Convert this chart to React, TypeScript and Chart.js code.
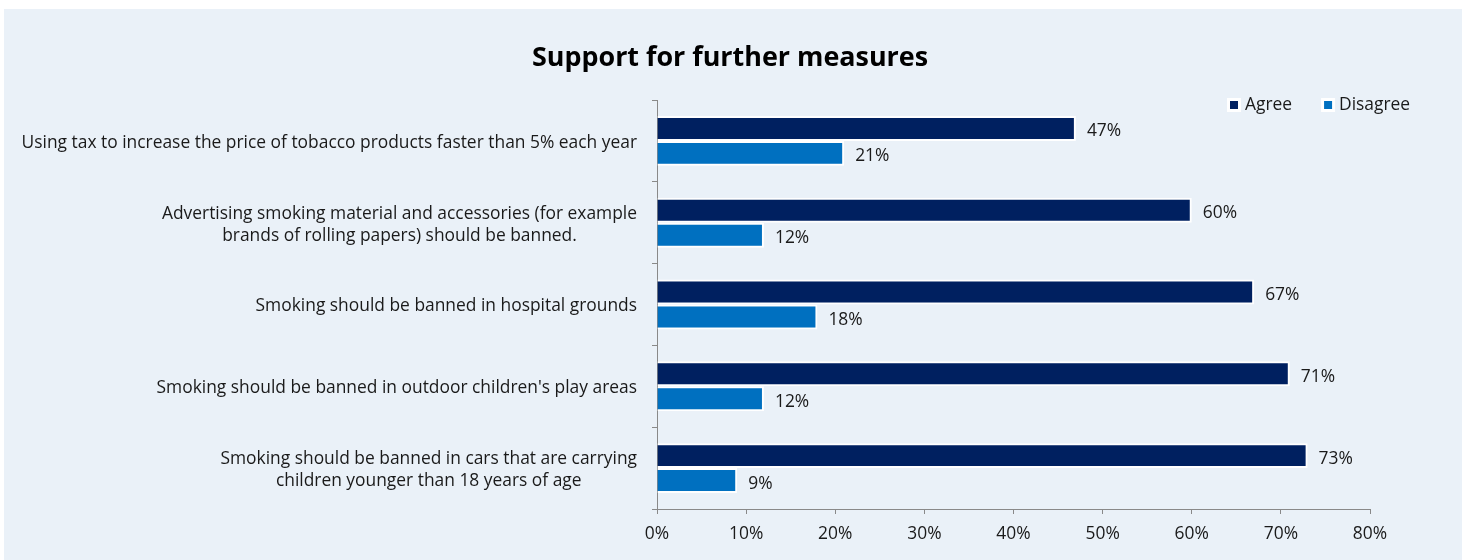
import React, { useEffect, useRef } from "react";
import { Chart, registerables } from "chart.js";

Chart.register(...registerables);

const categories: string[][] = [
  ["Using tax to increase the price of tobacco products faster than 5% each year"],
  ["Advertising smoking material and accessories (for example", "brands of rolling papers) should be banned."],
  ["Smoking should be banned in hospital grounds"],
  ["Smoking should be banned in outdoor children's play areas"],
  ["Smoking should be banned in cars that are carrying", "children younger than 18 years of age"],
];
const agree = [47, 60, 67, 71, 73];
const disagree = [21, 12, 18, 12, 9];
const seriesNames = ["Agree", "Disagree"];
const seriesColors = ["#002060", "#0070C0"];
const xMin = 0;
const xMax = 80;
const xStep = 10;
const title = "Support for further measures";

const FONT = '"Open Sans", "DejaVu Sans", sans-serif';
const AXIS = "#898989";
const TEXT = "#1a1a1a";
const FS = 17.4;

const customDraw = {
  id: "customDraw",
  beforeDraw(chart: any) {
    const ctx = chart.ctx;
    ctx.save();
    ctx.fillStyle = "#EAF1F8";
    ctx.fillRect(4, 9, chart.width - 4, chart.height - 9);
    ctx.restore();
  },
  afterDraw(chart: any) {
    const ctx = chart.ctx;
    const yScale = chart.scales.y;
    ctx.save();
    // title
    ctx.fillStyle = "#000";
    ctx.font = `bold 26.9px ${FONT}`;
    ctx.textAlign = "center";
    ctx.textBaseline = "middle";
    ctx.fillText(title, 730, 58);

    // y labels
    ctx.font = `${FS}px ${FONT}`;
    ctx.fillStyle = TEXT;
    const lineH = 22;
    categories.forEach((lines, i) => {
      const cy = yScale.getPixelForValue(i) + 2;
      const widths = lines.map((l) => ctx.measureText(l).width);
      const maxW = Math.max(...widths);
      const right = yScale.right - 20;
      const cx = right - maxW / 2;
      ctx.textAlign = "center";
      lines.forEach((l, j) => {
        const y = cy + (j - (lines.length - 1) / 2) * lineH;
        ctx.fillText(l, cx, y);
      });
    });

    // data labels
    ctx.textAlign = "left";
    chart.data.datasets.forEach((ds: any, di: number) => {
      const meta = chart.getDatasetMeta(di);
      meta.data.forEach((el: any, i: number) => {
        ctx.fillText(ds.data[i] + "%", el.x + 11, el.y + 3);
      });
    });

    // legend
    let lx = 1227;
    const ly = 105;
    seriesNames.forEach((name, i) => {
      ctx.fillStyle = "#fff";
      ctx.fillRect(lx, ly - 7, 14, 14);
      ctx.fillStyle = seriesColors[i];
      ctx.fillRect(lx + 3, ly - 4, 8, 8);
      ctx.fillStyle = TEXT;
      ctx.textAlign = "left";
      ctx.fillText(name, lx + 18, ly);
      lx += 18 + ctx.measureText(name).width + 29;
    });
    ctx.restore();
  },
};

export default function App() {
  const ref = useRef<HTMLCanvasElement>(null);
  useEffect(() => {
    document.body.style.margin = "0";
    const chart = new Chart(ref.current!, {
      type: "bar",
      data: {
        labels: categories.map((c) => c.join(" ")),
        datasets: [
          {
            label: seriesNames[0],
            data: agree,
            backgroundColor: seriesColors[0],
            borderColor: "#ffffff",
            borderWidth: 2,
            categoryPercentage: 0.61,
            barPercentage: 1,
          },
          {
            label: seriesNames[1],
            data: disagree,
            backgroundColor: seriesColors[1],
            borderColor: "#ffffff",
            borderWidth: 2,
            categoryPercentage: 0.61,
            barPercentage: 1,
          },
        ],
      },
      options: {
        indexAxis: "y",
        responsive: false,
        animation: false,
        layout: { padding: { top: 100, right: 92, left: 0, bottom: 0 } },
        plugins: {
          legend: { display: false },
          title: { display: false },
          tooltip: { enabled: false },
        },
        scales: {
          x: {
            min: xMin,
            max: xMax,
            ticks: {
              stepSize: xStep,
              callback: (v: any) => v + "%",
              color: TEXT,
              font: { family: FONT, size: FS },
              padding: 10,
            },
            grid: { drawOnChartArea: false, tickLength: 5, color: AXIS },
            border: { color: AXIS, width: 1 },
            afterFit: (s: any) => {
              s.height = 51;
            },
          },
          y: {
            ticks: { display: false },
            grid: { drawOnChartArea: false, tickLength: 5, color: AXIS, offset: true },
            border: { color: AXIS, width: 1 },
            afterFit: (s: any) => {
              s.width = 657;
            },
          },
        },
      },
      plugins: [customDraw],
    } as any);
    return () => chart.destroy();
  }, []);
  return <canvas ref={ref} width={1462} height={560} style={{ display: "block" }} />;
}
